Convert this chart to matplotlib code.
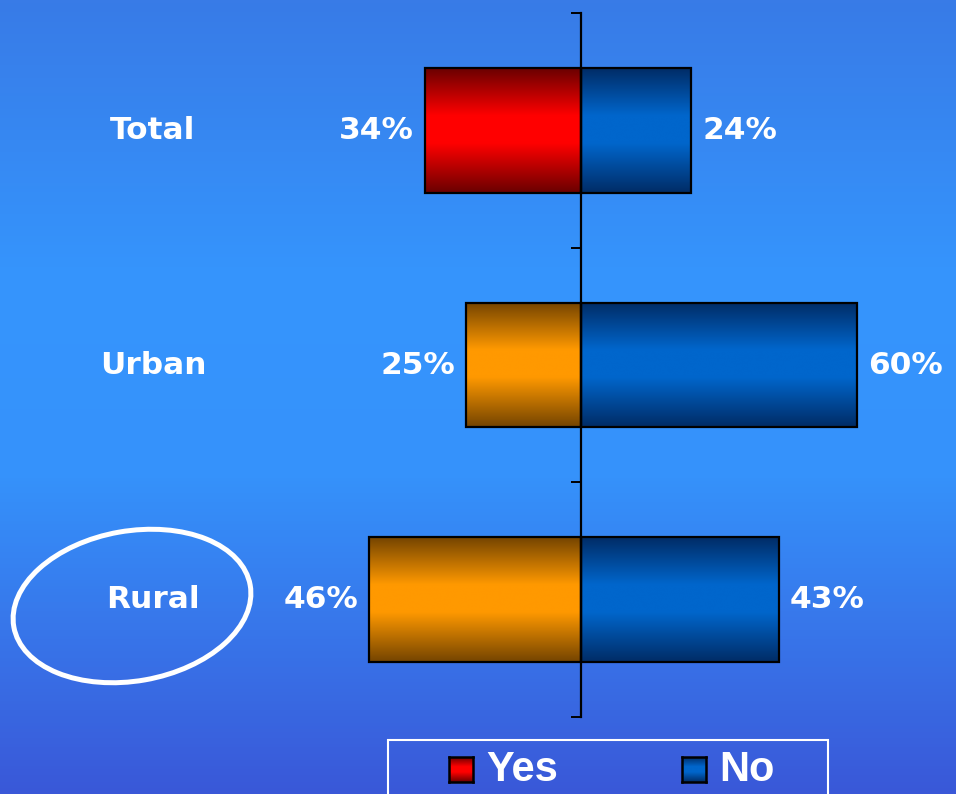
import numpy as np
import matplotlib
matplotlib.use("Agg")
import matplotlib.pyplot as plt
from matplotlib.colors import LinearSegmentedColormap
from matplotlib.patches import Ellipse, Rectangle
from matplotlib.transforms import blended_transform_factory

# ---- data ----
categories = ["Total", "Urban", "Rural"]
yes_pct = [34, 25, 46]
no_pct = [24, 60, 43]
legend_labels = ["Yes", "No"]

# ---- styles ----
W, H, DPI = 956, 794, 100
PX_PER_PCT = 4.6
AXIS_PX = 581
LABEL_SIZE = 22.5

def shaded(dark, bright):
    return LinearSegmentedColormap.from_list(
        "", [(0.0, dark), (0.38, bright), (0.6, bright), (1.0, dark)])

cm_red = shaded("#6a0000", "#ff0000")
cm_orange = shaded("#744400", "#ff9900")
cm_blue = shaded("#002c66", "#0066cc")
yes_cmaps = [cm_red, cm_orange, cm_orange]

fig = plt.figure(figsize=(W / DPI, H / DPI), dpi=DPI)

# background gradient
bg = fig.add_axes([0, 0, 1, 1], zorder=-5)
bg_cmap = LinearSegmentedColormap.from_list(
    "bg", [(0.0, "#387be7"), (0.35, "#3595fd"), (0.6, "#3592fb"), (1.0, "#3a58d8")])
bg.imshow(np.linspace(0, 1, 256)[:, None], aspect="auto", cmap=bg_cmap,
          extent=[0, 1, 0, 1], origin="upper")
bg.set_axis_off()

# main axes
top_px, bot_px = 13, 717
ax = fig.add_axes([0, 1 - bot_px / H, 1, (bot_px - top_px) / H])
ax.patch.set_alpha(0)

y = np.arange(len(categories))
bar_h = 0.53
yes_bars = ax.barh(y, [-v for v in yes_pct], height=bar_h, facecolor="none",
                   edgecolor="black", linewidth=1.6, zorder=3)
no_bars = ax.barh(y, no_pct, height=bar_h, facecolor="none",
                  edgecolor="black", linewidth=1.6, zorder=3)

grad = np.linspace(0, 1, 256)[:, None]
for bars, cmaps in ((yes_bars, yes_cmaps), (no_bars, [cm_blue] * 3)):
    for p, cm in zip(bars.patches, cmaps):
        x0, x1 = sorted([p.get_x(), p.get_x() + p.get_width()])
        y0, y1 = p.get_y(), p.get_y() + p.get_height()
        ax.imshow(grad, aspect="auto", cmap=cm, extent=[x0, x1, y1, y0],
                  origin="upper", zorder=2, interpolation="bicubic")

ax.set_xlim(-AXIS_PX / PX_PER_PCT, (W - AXIS_PX) / PX_PER_PCT)
ax.set_ylim(len(categories) - 0.5, -0.5)

# vertical axis through zero with ticks
for s in ["top", "right", "bottom"]:
    ax.spines[s].set_visible(False)
ax.spines["left"].set_position(("data", 0))
ax.spines["left"].set_linewidth(1.6)
ax.spines["left"].set_zorder(4)
ax.set_xticks([])
ax.set_yticks(y)
ax.set_yticks(np.arange(-0.5, len(categories), 1.0), minor=True)
ax.tick_params(axis="y", which="major", direction="in", length=7, width=1.4,
               labelleft=False)
ax.tick_params(axis="y", which="minor", direction="out", length=7, width=1.4)

# value labels
for i, (a, b) in enumerate(zip(yes_pct, no_pct)):
    ax.annotate(f"{a}%", (-a, i), xytext=(-8, 0), textcoords="offset points",
                ha="right", va="center", color="white", fontsize=LABEL_SIZE,
                fontweight="bold", family="DejaVu Sans")
    ax.annotate(f"{b}%", (b, i), xytext=(8, 0), textcoords="offset points",
                ha="left", va="center", color="white", fontsize=LABEL_SIZE,
                fontweight="bold", family="DejaVu Sans")

# category labels
tr = blended_transform_factory(ax.transAxes, ax.transData)
for i, c in enumerate(categories):
    ax.text(153 / W, i, c, transform=tr, ha="center", va="center",
            color="white", fontsize=LABEL_SIZE, fontweight="bold",
            family="DejaVu Sans")

# highlight ring around the last category
fig.add_artist(Ellipse((1.32, 1.88), 2.4, 1.5, angle=10, fill=False,
                       edgecolor="white", linewidth=3.6,
                       transform=fig.dpi_scale_trans))

# legend box
fig.add_artist(Rectangle((3.88, -0.2), 4.40, 0.74, fill=False, edgecolor="white",
                         linewidth=1.5, transform=fig.dpi_scale_trans))
for lbl, cm, sx, tx in ((legend_labels[0], cm_red, 449, 486),
                        (legend_labels[1], cm_blue, 682, 719)):
    sw = fig.add_axes([sx / W, 12 / H, 24 / W, 25 / H])
    sw.imshow(grad, aspect="auto", cmap=cm, extent=[0, 1, 0, 1])
    sw.set_xticks([])
    sw.set_yticks([])
    for s in sw.spines.values():
        s.set_linewidth(1.8)
    fig.text(tx / W, 24 / H, lbl, ha="left", va="center", color="white",
             fontsize=30, fontweight="bold", family="Liberation Sans")

fig.savefig("out.png", dpi=DPI)
